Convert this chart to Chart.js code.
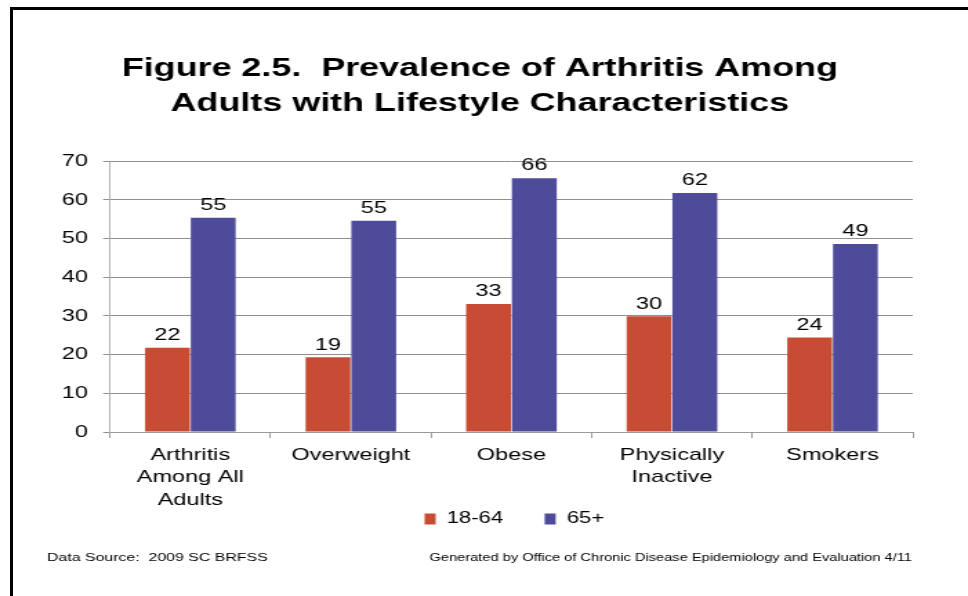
<!DOCTYPE html>
<html>
<head>
<meta charset="utf-8">
<title>Figure 2.5</title>
<script src="https://cdn.jsdelivr.net/npm/chart.js@4.4.1/dist/chart.umd.min.js"></script>
<style>
    html, body { margin: 0; padding: 0; background: #fff; overflow: hidden; }
    #wrap { position: relative; width: 968px; height: 596px; }
    #frame { position: absolute; left: 10px; top: 7px; right: -5px; bottom: -5px; border-left: 3px solid #000; border-top: 3px solid #000; }
    #myChart { position: absolute; left: 0; top: 0; transform: scaleX(1.3809); transform-origin: 0 0; }
</style>
</head>
<body>
<div id="wrap">
    <div id="frame"></div>
    <canvas id="myChart" width="701" height="596"></canvas>
</div>
<script>
// data
const categories = [["Arthritis", "Among All", "Adults"], "Overweight", "Obese", ["Physically", "Inactive"], "Smokers"];
const ages18to64 = [21.8, 19.3, 33.1, 29.9, 24.4];
const ages65plus = [55.4, 54.6, 65.6, 61.8, 48.6];
const seriesNames = ["18-64", "65+"];
const yTicks = [0, 10, 20, 30, 40, 50, 60, 70];
const titleLines = ["Figure 2.5.  Prevalence of Arthritis Among", "Adults with Lifestyle Characteristics"];
const sourceNote = "Data Source:  2009 SC BRFSS";
const creditNote = "Generated by Office of Chronic Disease Epidemiology and Evaluation 4/11";

const fontFamily = "'Liberation Sans', Arial, sans-serif";
Chart.defaults.font.family = fontFamily;
Chart.defaults.color = "#000";

// value labels above each bar
const barLabels = {
    id: "barLabels",
    afterDatasetsDraw(chart) {
        const ctx = chart.ctx;
        ctx.save();
        ctx.font = "17px " + fontFamily;
        ctx.fillStyle = "#000";
        ctx.textAlign = "center";
        ctx.textBaseline = "bottom";
        chart.data.datasets.forEach((ds, i) => {
            chart.getDatasetMeta(i).data.forEach((bar, j) => {
                ctx.fillText(Math.round(ds.data[j]), bar.x, bar.y - 4);
            });
        });
        ctx.restore();
    },
};

// footer notes
const footerNotes = {
    id: "footerNotes",
    afterDraw(chart) {
        const ctx = chart.ctx;
        ctx.save();
        ctx.fillStyle = "#000";
        ctx.textAlign = "left";
        ctx.textBaseline = "middle";
        ctx.font = "11.5px " + fontFamily;
        ctx.fillText(sourceNote, 34, 558);
        ctx.font = "10.6px " + fontFamily;
        ctx.fillText(creditNote, 311, 558);
        ctx.restore();
    },
};

// title and legend are not centred on the same point in the original,
// and the x labels hang down past their (squeezed) box
const shiftBoxes = {
    id: "shiftBoxes",
    afterLayout(chart) {
        chart.titleBlock.left += 12;
        chart.titleBlock.right += 12;
        chart.legend.left += 37;
        chart.legend.right += 37;
        chart.scales.x.bottom = chart.height;
    },
};

const data = {
    labels: categories,
    datasets: [
        {
            label: seriesNames[0],
            backgroundColor: "#C84C33",
            data: ages18to64,
        },
        {
            label: seriesNames[1],
            backgroundColor: "#4F4B9B",
            data: ages65plus,
        },
    ],
};

const config = {
    type: "bar",
    data: data,
    options: {
        responsive: false,
        animation: false,
        datasets: {
            bar: { categoryPercentage: 0.57, barPercentage: 0.98 },
        },
        layout: { padding: { top: 0, left: 10, right: 40, bottom: 59 } },
        scales: {
            x: {
                grid: { drawOnChartArea: false, offset: true, tickLength: 6, color: "#9a9a9a" },
                border: { color: "#9a9a9a" },
                ticks: {
                    font: { size: 17, lineHeight: 1.32 },
                    color: "#000",
                    padding: 6,
                    maxRotation: 0,
                    autoSkip: false,
                },
                afterFit: (s) => { s.height = 49; },
            },
            y: {
                min: 0,
                max: 70,
                grid: { color: "#8e8e8e", tickLength: 5 },
                border: { color: "#b0b0b0" },
                ticks: { font: { size: 17 }, color: "#000", padding: 11 },
                afterBuildTicks: (axis) => { axis.ticks = yTicks.map((v) => ({ value: v })); },
                afterFit: (s) => { s.width = 69.7; },
            },
        },
        plugins: {
            title: {
                display: true,
                text: titleLines,
                color: "#000",
                font: { size: 26, weight: "bold", lineHeight: 1.35 },
                padding: { top: 51, bottom: 40 },
            },
            legend: {
                position: "bottom",
                labels: {
                    boxWidth: 8,
                    boxHeight: 11,
                    padding: 30,
                    color: "#000",
                    font: { size: 16 },
                },
            },
            tooltip: { enabled: false },
        },
    },
    plugins: [barLabels, footerNotes, shiftBoxes],
};

const ctx = document.getElementById("myChart").getContext("2d");
const myChart = new Chart(ctx, config);
</script>
</body>
</html>
